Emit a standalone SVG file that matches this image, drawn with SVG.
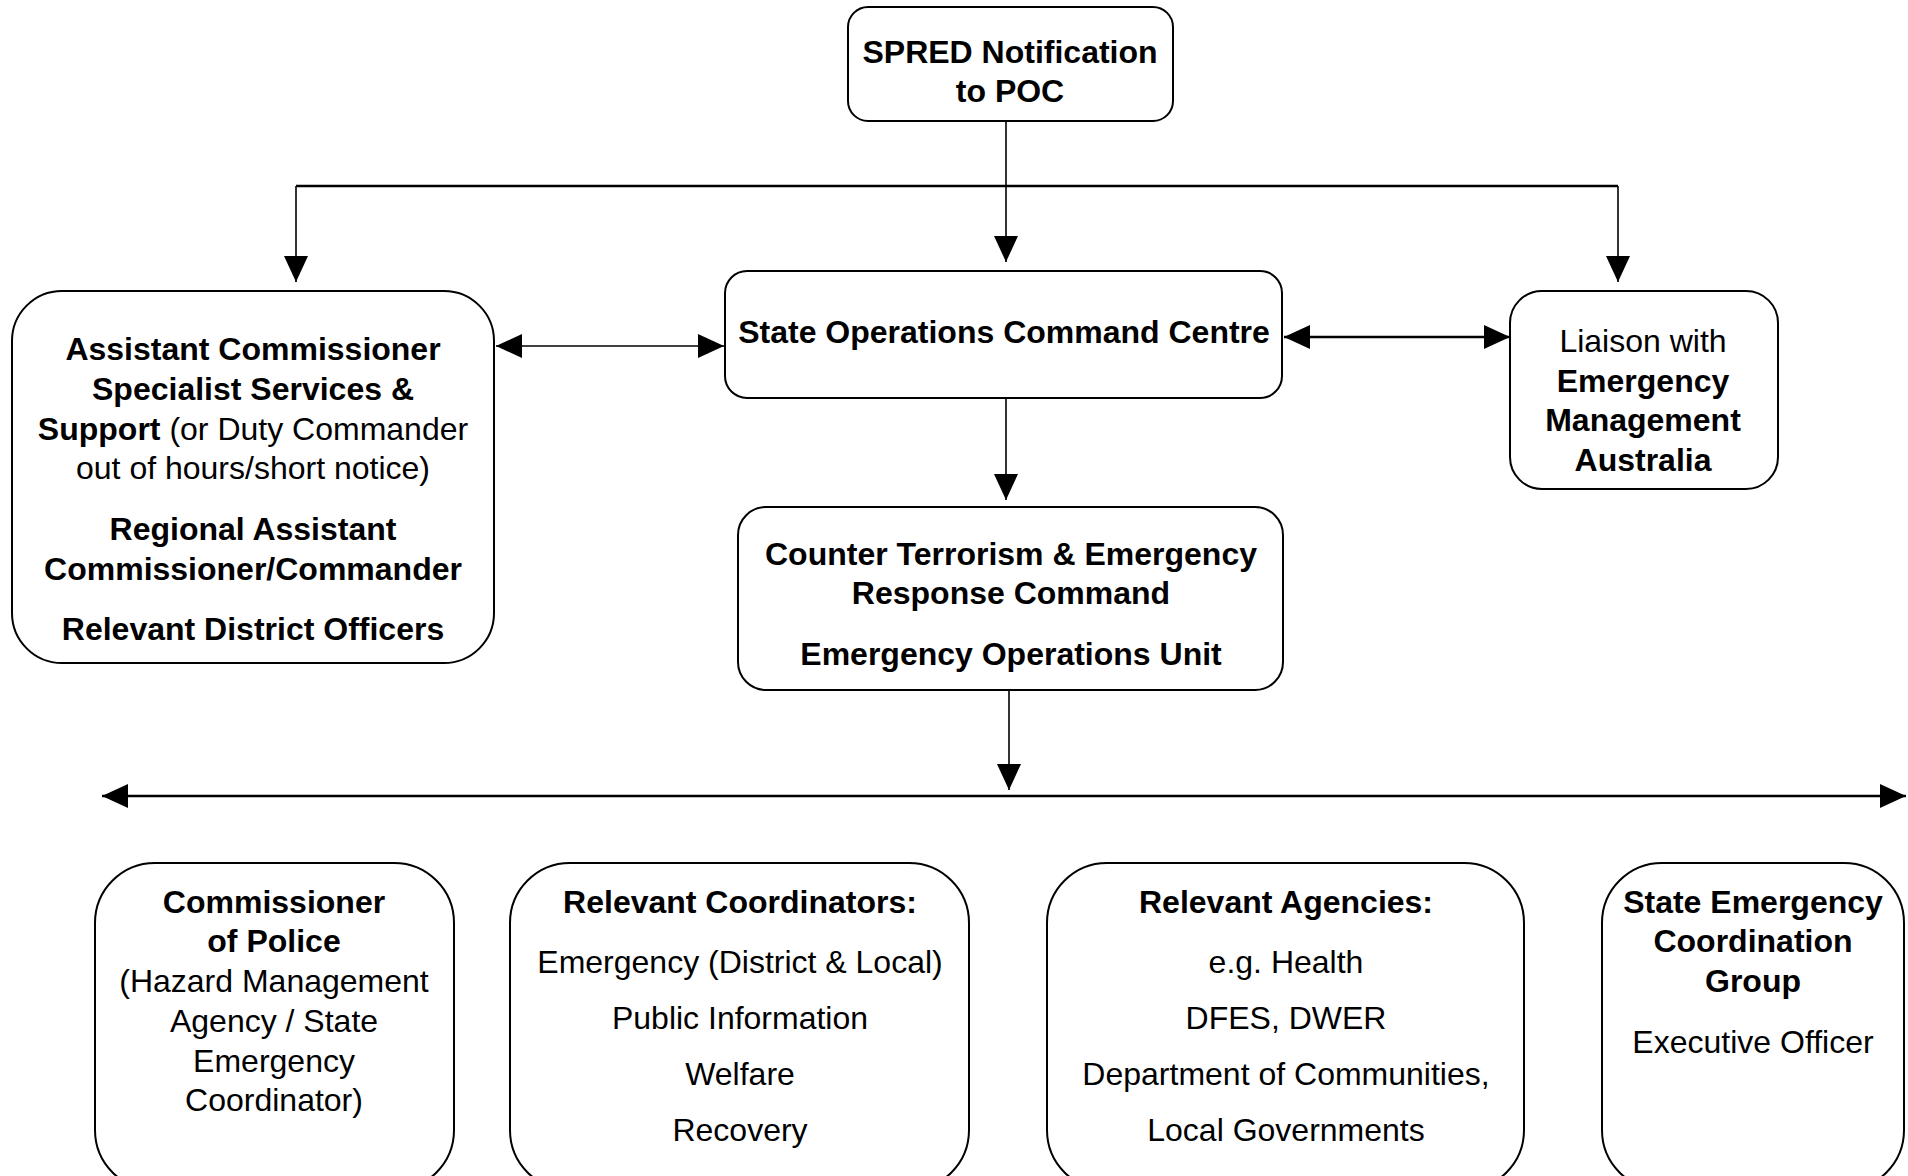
<svg xmlns="http://www.w3.org/2000/svg" width="1908" height="1176" viewBox="0 0 1908 1176">
<style>
.box{fill:#fff;stroke:#000;stroke-width:2}
.ln{fill:none;stroke:#000;stroke-width:1.6}
.hl{fill:none;stroke:#000;stroke-width:2.6}
text{font-family:"Liberation Sans",Arial,sans-serif;font-size:32px;fill:#000;text-anchor:middle}
.b{font-weight:bold}
</style>
<defs>
<marker id="ah" markerUnits="userSpaceOnUse" markerWidth="26" markerHeight="26" viewBox="0 0 26 26" refX="26" refY="13" orient="auto-start-reverse">
<path d="M0,1 L26,13 L0,25 z" fill="#000"/>
</marker>
</defs>
<rect width="1908" height="1176" fill="#fff"/>
<g id="connectors">
<line class="ln" x1="1006" y1="121" x2="1006" y2="262" marker-end="url(#ah)"/>
<line class="hl" x1="296" y1="186" x2="1618" y2="186"/>
<line class="ln" x1="296" y1="186" x2="296" y2="282" marker-end="url(#ah)"/>
<line class="ln" x1="1618" y1="186" x2="1618" y2="282" marker-end="url(#ah)"/>
<line class="ln" x1="496" y1="346" x2="724" y2="346" marker-start="url(#ah)" marker-end="url(#ah)"/>
<line class="hl" x1="1284" y1="337" x2="1510" y2="337" marker-start="url(#ah)" marker-end="url(#ah)"/>
<line class="ln" x1="1006" y1="398" x2="1006" y2="500" marker-end="url(#ah)"/>
<line class="ln" x1="1009" y1="690" x2="1009" y2="790" marker-end="url(#ah)"/>
<line class="hl" x1="102" y1="796" x2="1906" y2="796" marker-start="url(#ah)" marker-end="url(#ah)"/>
</g>
<g id="spred">
<rect class="box" x="848" y="7" width="325" height="114" rx="20"/>
<text class="b" x="1010" y="63">SPRED Notification</text>
<text class="b" x="1010" y="102">to POC</text>
</g>
<g id="socc">
<rect class="box" x="725" y="271" width="557" height="127" rx="22"/>
<text class="b" x="1004" y="343">State Operations Command Centre</text>
</g>
<g id="liaison">
<rect class="box" x="1510" y="291" width="268" height="198" rx="32"/>
<text x="1643" y="352">Liaison with</text>
<text class="b" x="1643" y="392">Emergency</text>
<text class="b" x="1643" y="431">Management</text>
<text class="b" x="1643" y="471">Australia</text>
</g>
<g id="assistant-commissioner">
<rect class="box" x="12" y="291" width="482" height="372" rx="50"/>
<text class="b" x="253" y="360">Assistant Commissioner</text>
<text class="b" x="253" y="400">Specialist Services &amp;</text>
<text x="253" y="440"><tspan class="b">Support</tspan> (or Duty Commander</text>
<text x="253" y="479">out of hours/short notice)</text>
<text class="b" x="253" y="540">Regional Assistant</text>
<text class="b" x="253" y="580">Commissioner/Commander</text>
<text class="b" x="253" y="640">Relevant District Officers</text>
</g>
<g id="cterc">
<rect class="box" x="738" y="507" width="545" height="183" rx="28"/>
<text class="b" x="1011" y="565">Counter Terrorism &amp; Emergency</text>
<text class="b" x="1011" y="604">Response Command</text>
<text class="b" x="1011" y="665">Emergency Operations Unit</text>
</g>
<g id="commissioner">
<rect class="box" x="95" y="863" width="359" height="327" rx="60"/>
<text class="b" x="274" y="913">Commissioner</text>
<text class="b" x="274" y="952">of Police</text>
<text x="274" y="992">(Hazard Management</text>
<text x="274" y="1032">Agency / State</text>
<text x="274" y="1072">Emergency</text>
<text x="274" y="1111">Coordinator)</text>
</g>
<g id="coordinators">
<rect class="box" x="510" y="863" width="459" height="327" rx="60"/>
<text class="b" x="740" y="913">Relevant Coordinators:</text>
<text x="740" y="973">Emergency (District &amp; Local)</text>
<text x="740" y="1029">Public Information</text>
<text x="740" y="1085">Welfare</text>
<text x="740" y="1141">Recovery</text>
</g>
<g id="agencies">
<rect class="box" x="1047" y="863" width="477" height="327" rx="60"/>
<text class="b" x="1286" y="913">Relevant Agencies:</text>
<text x="1286" y="973">e.g. Health</text>
<text x="1286" y="1029">DFES, DWER</text>
<text x="1286" y="1085">Department of Communities,</text>
<text x="1286" y="1141">Local Governments</text>
</g>
<g id="secg">
<rect class="box" x="1602" y="863" width="302" height="327" rx="60"/>
<text class="b" x="1753" y="913">State Emergency</text>
<text class="b" x="1753" y="952">Coordination</text>
<text class="b" x="1753" y="992">Group</text>
<text x="1753" y="1053">Executive Officer</text>
</g>
</svg>
